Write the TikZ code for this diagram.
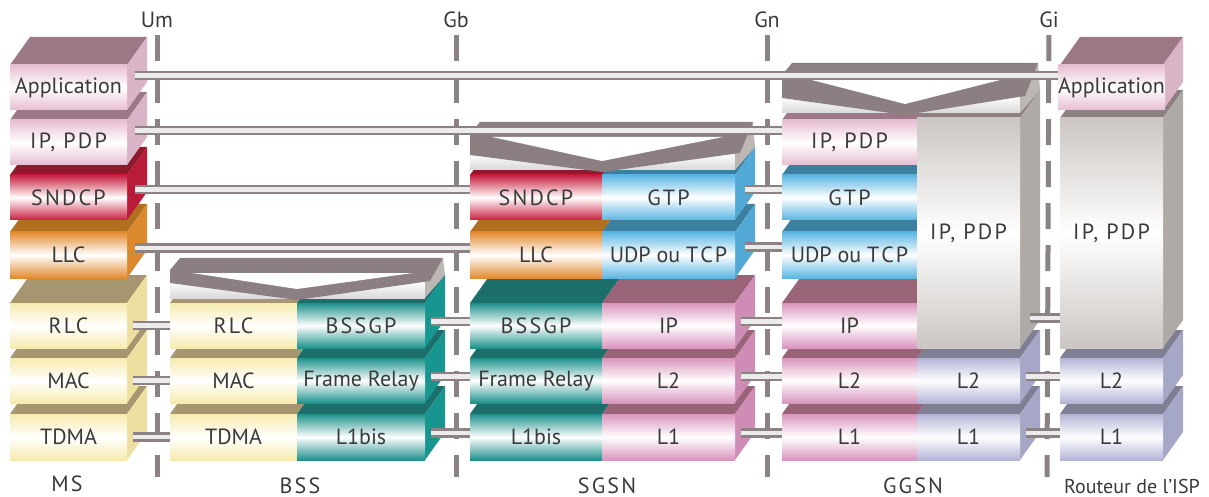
\documentclass[tikz,border=0pt]{standalone}
\usepackage{fontspec}
\setmainfont{PT Sans}
\newfontfamily\spfont[LetterSpace=10]{PT Sans}
\usetikzlibrary{calc}
\definecolor{ink}{HTML}{3A3A3A}
\definecolor{pipegray}{HTML}{8C8284}
\definecolor{lidgray}{HTML}{8C7F82}
\definecolor{pk}{HTML}{E6BED2}\definecolor{pktop}{HTML}{9C7886}\definecolor{pkside}{HTML}{D9B3C6}
\definecolor{rd}{HTML}{C8203E}\definecolor{rdtop}{HTML}{8E1A2E}\definecolor{rdside}{HTML}{B81C38}
\definecolor{og}{HTML}{E38B2F}\definecolor{ogtop}{HTML}{B0701F}\definecolor{ogside}{HTML}{DA8A2C}
\definecolor{ye}{HTML}{F6EBAE}\definecolor{yetop}{HTML}{A69670}\definecolor{yeside}{HTML}{ECDFA0}
\definecolor{tl}{HTML}{1E918B}\definecolor{tltop}{HTML}{1D6F6B}\definecolor{tlside}{HTML}{179690}
\definecolor{bl}{HTML}{5BB6E2}\definecolor{bltop}{HTML}{3D7F9E}\definecolor{blside}{HTML}{52A9D6}
\definecolor{mv}{HTML}{D995BE}\definecolor{mvtop}{HTML}{9A6478}\definecolor{mvside}{HTML}{CF8DB5}
\definecolor{lv}{HTML}{B3B5D6}\definecolor{lvtop}{HTML}{807E92}\definecolor{lvside}{HTML}{A6A6C6}
\definecolor{gy}{HTML}{CBC6C2}\definecolor{gytop}{HTML}{8C8082}\definecolor{gyside}{HTML}{B0AAA6}
\tikzset{
  face/.style = {inner sep=0pt, outer sep=0pt, text=ink,
    font=\fontsize{11}{13}\selectfont},
  pipe/.style = {draw=pipegray, line width=1.2pt, double=white!92!black,
    double distance=2.2pt},
  sep/.style = {draw=pipegray, line width=2.5pt, dash pattern=on 13pt off 8pt},
  lbl/.style = {text=ink, font=\fontsize{11}{13}\spfont},
  itf/.style = {text=ink, font=\fontsize{11}{13}\selectfont}
}
% name, x1, x2, y1, y2, colour, text
\newcommand\blk[7]{%
  \fill[#6top] (#2,#4) -- ++(20,-28) -- (#3+20,#4-28) -- (#3,#4) -- cycle;
  \fill[#6side] (#3,#4) -- (#3+20,#4-28) -- (#3+20,#5-28) -- (#3,#5) -- cycle;
  \node[face, top color=#6, bottom color=#6, middle color=white,
    minimum width=(#3-#2)*0.5pt, minimum height=(#5-#4)*0.5pt]
    (#1) at ({(#2+#3)/2},{(#4+#5)/2}) {#7};}
% left, right, middle, top of stack, height
\newcommand\lid[5]{%
  \shade[top color=white, bottom color=black!15] (#1,#4-22) rectangle (#2,#4-5);
  \fill[gyside!85!white] (#2,#4-5) -- (#2,#4-22) -- (#2+18,#4-#5) -- (#2+20,#4-28) -- cycle;
  \fill[lidgray] (#1+10,#4-#5) -- (#2+18,#4-#5) -- (#2+5,#4-22) -- (#3,#4-3)
    -- (#1,#4-20) -- (#1,#4-#5+12) -- cycle;
  \fill[white] (#1+22,#4-#5+15) -- (#2-12,#4-#5+15) -- (#3,#4-14) -- cycle;}

\begin{document}
\begin{tikzpicture}[x=0.5pt, y=-0.5pt]
  \useasboundingbox[fill=white] (0,0) rectangle (1209,497);

  % interfaces
  \node[itf] (um) at (157,20) {Um};
  \node[itf] (gb) at (456,20) {Gb};
  \node[itf] (gn) at (767,20) {Gn};
  \node[itf] (gi) at (1049,20) {Gi};
  \coordinate (um-b) at (157,477);
  \coordinate (gb-b) at (456,477);
  \coordinate (gn-b) at (767,477);
  \coordinate (gi-b) at (1047,477);
  \foreach \i in {um, gb, gn, gi}
    \draw[sep] (\i) -- (\i-b);

  % layer 1
  \blk{ms-tdma}{10}{127}{414}{460}{ye}{TDMA}
  \blk{bss-tdma}{170}{297}{414}{460}{ye}{TDMA}
  \blk{bss-l1bis}{297}{425}{414}{460}{tl}{L1bis}
  \blk{sg-l1bis}{470}{602}{414}{460}{tl}{L1bis}
  \blk{sg-l1}{602}{735}{414}{460}{mv}{L1}
  \blk{gg-l1}{782}{917}{414}{460}{mv}{L1}
  \blk{gg-l1b}{917}{1020}{414}{460}{lv}{L1}
  \blk{rt-l1}{1060}{1163}{414}{460}{lv}{L1}
  % layer 2
  \blk{ms-mac}{10}{127}{358}{403}{ye}{MAC}
  \blk{bss-mac}{170}{297}{358}{403}{ye}{MAC}
  \blk{bss-fr}{297}{425}{358}{403}{tl}{Frame Relay}
  \blk{sg-fr}{470}{602}{358}{403}{tl}{Frame Relay}
  \blk{sg-l2}{602}{735}{358}{403}{mv}{L2}
  \blk{gg-l2}{782}{917}{358}{403}{mv}{L2}
  \blk{gg-l2b}{917}{1020}{358}{403}{lv}{L2}
  \blk{rt-l2}{1060}{1163}{358}{403}{lv}{L2}
  % layer 3
  \blk{ms-rlc}{10}{127}{303}{348}{ye}{\spfont RLC}
  \blk{bss-rlc}{170}{297}{303}{348}{ye}{\spfont RLC}
  \blk{bss-bssgp}{297}{425}{303}{348}{tl}{\spfont BSSGP}
  \blk{sg-bssgp}{470}{602}{303}{348}{tl}{\spfont BSSGP}
  \blk{sg-ip}{602}{735}{303}{348}{mv}{IP}
  \blk{gg-ip}{782}{917}{303}{348}{mv}{IP}
  % upper layers
  \blk{ms-llc}{10}{127}{232}{278}{og}{LLC}
  \blk{sg-llc}{470}{602}{232}{278}{og}{LLC}
  \blk{sg-udp}{602}{735}{232}{278}{bl}{UDP ou T\kern1pt C\kern1pt P}
  \blk{gg-udp}{782}{917}{232}{278}{bl}{UDP ou T\kern1pt C\kern1pt P}
  \blk{ms-sndcp}{10}{127}{175}{220}{rd}{\spfont SNDCP}
  \blk{sg-sndcp}{470}{602}{175}{220}{rd}{\spfont SNDCP}
  \blk{sg-gtp}{602}{735}{175}{220}{bl}{\spfont GTP}
  \blk{gg-gtp}{782}{917}{175}{220}{bl}{\spfont GTP}
  \blk{ms-pdp}{10}{127}{120}{165}{pk}{\spfont IP, PDP}
  \blk{gg-pdp}{782}{917}{120}{165}{pk}{\spfont IP, PDP}
  \blk{gg-big}{917}{1020}{118}{348}{gy}{\spfont IP, PDP}
  \blk{rt-big}{1060}{1163}{118}{348}{gy}{\spfont IP, PDP}
  \blk{ms-app}{10}{127}{65}{110}{pk}{Application}
  \blk{rt-app}{1060}{1163}{65}{110}{pk}{Application}

  % relays
  \lid{170}{425}{297}{303}{45}
  \lid{470}{735}{602}{175}{53}
  \lid{782}{1020}{905}{118}{55}

  % peer layers
  \draw[pipe] ([xshift=4pt,yshift=6pt]ms-app.east) -- ([yshift=6pt]rt-app.west);
  \draw[pipe] ([xshift=4pt,yshift=6pt]ms-pdp.east) -- ([yshift=6pt]gg-pdp.west);
  \draw[pipe] ([xshift=4pt,yshift=4pt]ms-sndcp.east) -- ([yshift=4pt]sg-sndcp.west);
  \draw[pipe] ([xshift=4pt,yshift=3.5pt]ms-llc.east) -- ([yshift=3.5pt]sg-llc.west);
  \draw[pipe] ([xshift=5pt,yshift=4pt]sg-gtp.east) -- ([yshift=4pt]gg-gtp.west);
  \draw[pipe] ([xshift=5pt,yshift=4pt]sg-udp.east) -- ([yshift=4pt]gg-udp.west);
  \draw[pipe] ([xshift=5pt,yshift=15pt]gg-big.south east) -- ([yshift=15pt]rt-big.south west);
  \foreach \a/\b in {ms-rlc/bss-rlc, ms-mac/bss-mac, ms-tdma/bss-tdma}
    \draw[pipe] ([xshift=3pt]\a.east) -- (\b.west);
  \foreach \a/\b in {bss-bssgp/sg-bssgp, bss-fr/sg-fr, bss-l1bis/sg-l1bis,
      sg-ip/gg-ip, sg-l2/gg-l2, sg-l1/gg-l1, gg-l2b/rt-l2, gg-l1b/rt-l1}
    \draw[pipe] ([xshift=3pt,yshift=2pt]\a.east) -- ([yshift=2pt]\b.west);

  % equipments
  \node[lbl] (ms) at (67,484) {MS};
  \node[lbl] (bss) at (300,486) {BSS};
  \node[lbl] (sgsn) at (607,486) {SGSN};
  \node[lbl] (ggsn) at (913,486) {GGSN};
  \node[itf, font=\fontsize{10}{12}\selectfont] (isp) at (1132,486) {Routeur de l’ISP};
\end{tikzpicture}
\end{document}
